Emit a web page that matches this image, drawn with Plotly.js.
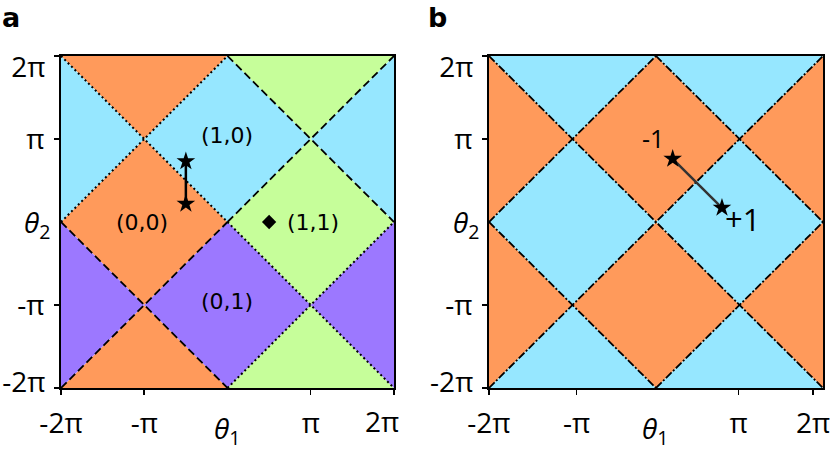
<!DOCTYPE html>
<html>
<head>
<meta charset="utf-8">
<script src="https://cdn.plot.ly/plotly-3.0.1.min.js"></script>
<style>
  body { margin: 0; background: #fff; }
  #chart { width: 831px; height: 450px; }
</style>
</head>
<body>
<div id="chart"></div>
<script>
// axes are in units of pi
const tickVals = [-2, -1, 1, 2];
const tickVals2 = [-2, -0.95, 0.99, 1.88]; // panel b ticks sit a bit off in the original
const tickTextA = ["-2π", "-π", "π", ""];
const tickTextB = ["-2π", "-π", "π", "2π"];
const tickTextY = ["", "-π", "π", ""];
// end labels that the original pulls inside the frame
const endXVals = [1.856];
const endXText = ["2π"];
const endYVals = [-1.93, 1.87];
const endYText = ["-2π", "2π"];

// regions of panel a (polygon vertices)
const orangeA = [
  [[-2, 2], [0, 2], [-1, 1]],
  [[-2, 0], [-1, 1], [0, 0], [-1, -1]],
  [[-2, -2], [0, -2], [-1, -1]]
];
const blueA = [
  [[-2, 2], [-1, 1], [-2, 0]],
  [[-1, 1], [0, 2], [1, 1], [0, 0]],
  [[2, 2], [1, 1], [2, 0]]
];
const greenA = [
  [[0, 2], [2, 2], [1, 1]],
  [[0, 0], [1, 1], [2, 0], [1, -1]],
  [[0, -2], [2, -2], [1, -1]]
];
const purpleA = [
  [[-2, 0], [-1, -1], [-2, -2]],
  [[-1, -1], [0, 0], [1, -1], [0, -2]],
  [[2, 0], [1, -1], [2, -2]]
];

// boundaries of panel a: [x0, y0, x1, y1]
const dottedA = [[-2, 0, 0, 2], [-2, 2, 0, 0], [0, -2, 2, 0], [0, 0, 2, -2]];
const dashedA = [[0, 2, 2, 0], [0, 0, 2, 2], [-2, -2, 0, 0], [-2, 0, 0, -2]];

// regions of panel b
const orangeB = [
  [[-2, 2], [-1, 1], [-2, 0]],
  [[-1, 1], [0, 2], [1, 1], [0, 0]],
  [[2, 2], [1, 1], [2, 0]],
  [[-2, 0], [-1, -1], [-2, -2]],
  [[-1, -1], [0, 0], [1, -1], [0, -2]],
  [[2, 0], [1, -1], [2, -2]]
];
const blueB = [
  [[-2, 2], [0, 2], [-1, 1]],
  [[0, 2], [2, 2], [1, 1]],
  [[-2, 0], [-1, 1], [0, 0], [-1, -1]],
  [[0, 0], [1, 1], [2, 0], [1, -1]],
  [[-2, -2], [0, -2], [-1, -1]],
  [[0, -2], [2, -2], [1, -1]]
];
const dashdotB = [[-2, 2, 2, -2], [-2, -2, 2, 2], [-2, 0, 0, 2], [0, 2, 2, 0], [-2, 0, 0, -2], [0, -2, 2, 0]];

// markers
const starAx = [-0.5, -0.5];
const starAy = [0.73, 0.22];
const diamondAx = [0.5];
const diamondAy = [0];
const starBx = [0.2, 0.79];
const starBy = [0.76, 0.17];

// region labels
const labelsA = [
  { text: "(1,0)", x: 0, y: 1.04 },
  { text: "(0,0)", x: -1.03, y: -0.01 },
  { text: "(1,1)", x: 1.03, y: -0.01 },
  { text: "(0,1)", x: 0, y: -0.96 }
];
const labelsB = [
  { text: "-1", x: -0.04, y: 1.01, size: 25 },
  { text: "+1", x: 1.03, y: 0.03, size: 31 }
];

const orange = "#ff9a5b";
const blue = "#96e7ff";
const green = "#c6fe9a";
const purple = "#9c78ff";

const traces = [];

function addPolys(polys, color, xa, ya) {
  polys.forEach((p) => {
    const xs = p.map((v) => v[0]);
    const ys = p.map((v) => v[1]);
    xs.push(p[0][0]);
    ys.push(p[0][1]);
    traces.push({
      x: xs, y: ys, xaxis: xa, yaxis: ya,
      mode: "lines", fill: "toself", fillcolor: color,
      line: { width: 0, color: color },
      hoverinfo: "skip", showlegend: false
    });
  });
}

function addSegs(segs, dash, w, xa, ya) {
  segs.forEach((s) => {
    traces.push({
      x: [s[0], s[2]], y: [s[1], s[3]], xaxis: xa, yaxis: ya,
      mode: "lines", line: { color: "black", width: w, dash: dash },
      hoverinfo: "skip", showlegend: false
    });
  });
}

addPolys(orangeA, orange, "x", "y");
addPolys(blueA, blue, "x", "y");
addPolys(greenA, green, "x", "y");
addPolys(purpleA, purple, "x", "y");
addSegs(dottedA, "2px,2.8px", 2, "x", "y");
addSegs(dashedA, "8px,4px", 1.8, "x", "y");

addPolys(orangeB, orange, "x2", "y2");
addPolys(blueB, blue, "x2", "y2");
addSegs(dashdotB, "8px,2px,2px,2px", 1.8, "x2", "y2");

traces.push({
  x: starAx, y: starAy, xaxis: "x", yaxis: "y",
  mode: "lines+markers",
  line: { color: "black", width: 2.5 },
  marker: { symbol: "star", size: 14, color: "black" },
  showlegend: false
});
traces.push({
  x: diamondAx, y: diamondAy, xaxis: "x", yaxis: "y",
  mode: "markers",
  marker: { symbol: "diamond", size: 11, color: "black" },
  showlegend: false
});
traces.push({
  x: starBx, y: starBy, xaxis: "x2", yaxis: "y2",
  mode: "lines+markers",
  line: { color: "#333", width: 2.5 },
  marker: { symbol: "star", size: 14, color: "black" },
  showlegend: false
});

// empty traces so the label-only axes get drawn
[["x3", "y"], ["x", "y3"], ["x2", "y4"]].forEach((p) => traces.push({
  x: [], y: [], xaxis: p[0], yaxis: p[1], mode: "markers", showlegend: false
}));

const tickFam = "Open Sans, sans-serif";
const labelFam = "DejaVu Sans, sans-serif";

function axis(domain, vals, text, anchor) {
  return {
    domain: domain, range: [-2, 2], anchor: anchor,
    showgrid: false, zeroline: false,
    showline: true, mirror: true, linewidth: 2, linecolor: "black",
    ticks: "outside", ticklen: 5, tickwidth: 1.5, tickcolor: "black",
    tickvals: vals, ticktext: text, ticklabelstandoff: 4,
    tickfont: { family: tickFam, size: 28, color: "black" },
    fixedrange: true
  };
}

function labelAxis(over, anchor, vals, text) {
  return {
    overlaying: over, anchor: anchor, range: [-2, 2],
    showgrid: false, zeroline: false, showline: false,
    ticks: "outside", ticklen: 5, tickcolor: "rgba(0,0,0,0)",
    tickvals: vals, ticktext: text, ticklabelstandoff: 4,
    tickfont: { family: tickFam, size: 28, color: "black" },
    fixedrange: true
  };
}

const annotations = [];
labelsA.forEach((l) => annotations.push({
  text: l.text, x: l.x, y: l.y, xref: "x", yref: "y", showarrow: false,
  xanchor: "center", yanchor: "middle",
  font: { family: labelFam, size: 22, color: "black" }
}));
labelsB.forEach((l) => annotations.push({
  text: l.text, x: l.x, y: l.y, xref: "x2", yref: "y2", showarrow: false,
  xanchor: "center", yanchor: "middle",
  font: { family: tickFam, size: l.size, color: "black" }
}));

// axis names and panel letters
const thetaFont = { family: tickFam, size: 28, color: "black" };
function note(text, x, y, xref, yref, font, ya) {
  annotations.push({ text: text, x: x, y: y, xref: xref, yref: yref, showarrow: false,
    xanchor: "center", yanchor: ya || "middle", font: font });
}
note("<i>θ</i><sub>1</sub>", 0, 0.045, "x", "paper", thetaFont);
note("<i>θ</i><sub>1</sub>", 0, 0.045, "x2", "paper", thetaFont);
note("<i>θ</i><sub>2</sub>", 0.045, -0.03, "paper", "y", thetaFont);
note("<i>θ</i><sub>2</sub>", 0.561, -0.03, "paper", "y2", thetaFont);
note("<b>a</b>", 0.013, 1, "paper", "paper", { family: labelFam, size: 27, color: "black" }, "top");
note("<b>b</b>", 0.527, 1, "paper", "paper", { family: labelFam, size: 27, color: "black" }, "top");

const layout = {
  width: 831, height: 450,
  margin: { l: 0, r: 0, t: 0, b: 0 },
  paper_bgcolor: "white", plot_bgcolor: "white",
  xaxis: axis([0.0734, 0.4741], tickVals, tickTextA, "y"),
  yaxis: axis([0.1378, 0.8756], tickVals, tickTextY, "x"),
  xaxis2: axis([0.5884, 0.9904], tickVals2, tickTextB, "y2"),
  yaxis2: axis([0.1378, 0.8756], tickVals, tickTextY, "x2"),
  xaxis3: labelAxis("x", "y", endXVals, endXText),
  yaxis3: labelAxis("y", "x", endYVals, endYText),
  yaxis4: labelAxis("y2", "x2", endYVals, endYText),
  annotations: annotations,
  showlegend: false
};

Plotly.newPlot("chart", traces, layout, { displayModeBar: false, staticPlot: true });
</script>
</body>
</html>
